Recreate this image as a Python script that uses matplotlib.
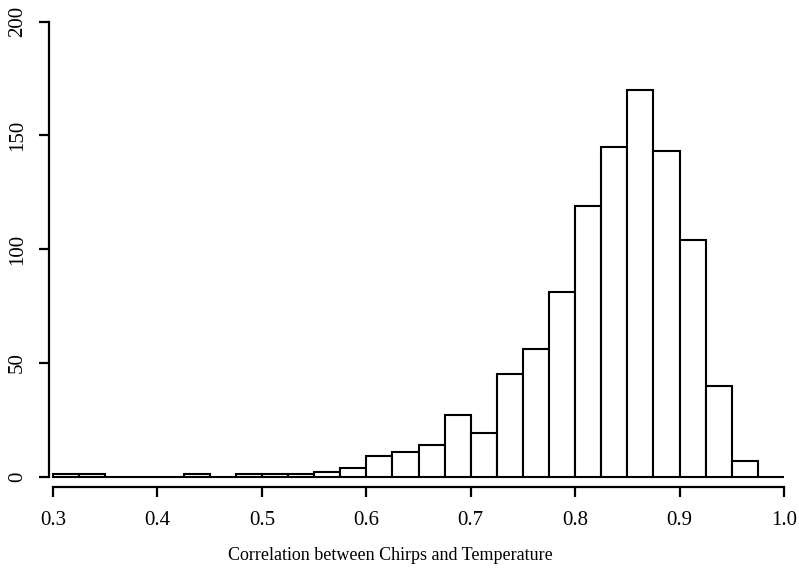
import numpy as np
import matplotlib
matplotlib.use("Agg")
import matplotlib.pyplot as plt

# Histogram bins (width 0.025 from 0.3 to 1.0)
bin_edges = [round(0.3 + 0.025 * i, 3) for i in range(29)]
counts = [1, 1, 0, 0, 0, 1, 0, 1, 1, 1, 2, 4, 9, 11, 14, 27, 19, 45, 56,
          81, 119, 145, 170, 143, 104, 40, 7, 0]
x_ticks = [0.3, 0.4, 0.5, 0.6, 0.7, 0.8, 0.9, 1.0]
x_tick_labels = ["0.3", "0.4", "0.5", "0.6", "0.7", "0.8", "0.9", "1.0"]
y_ticks = [0, 50, 100, 150, 200]
y_tick_labels = ["0", "50", "100", "150", "200"]
x_label = "Correlation between Chirps and Temperature"

plt.rcParams['font.family'] = ['Liberation Serif', 'DejaVu Serif']

W, H = 799, 574
fig = plt.figure(figsize=(W / 100, H / 100), dpi=100)
left, right, top, bottom = 49, 790, 21.7, 476.7
ax = fig.add_axes([left / W, 1 - bottom / H, (right - left) / W, (bottom - top) / H])

lefts = np.array(bin_edges[:-1])
widths = np.diff(bin_edges)
ax.bar(lefts, counts, width=widths, align='edge', facecolor='white',
       edgecolor='black', linewidth=1.5, clip_on=False)

ax.set_xlim(0.2962, 1.0057)
ax.set_ylim(0, 200)

for s in ['top', 'right']:
    ax.spines[s].set_visible(False)
ax.spines['left'].set_bounds(0, 200)
ax.spines['left'].set_linewidth(1.6)
ax.spines['bottom'].set_bounds(0.3, 1.0)
ax.spines['bottom'].set_position(('outward', 7.5))
ax.spines['bottom'].set_linewidth(1.6)

ax.set_xticks(x_ticks)
ax.set_xticklabels(x_tick_labels, fontsize=15)
ax.set_yticks(y_ticks)
ax.set_yticklabels(y_tick_labels, fontsize=15, rotation=90, va='center')
ax.tick_params(axis='y', length=7, width=1.6, pad=9)
ax.tick_params(axis='x', length=7, width=1.6, pad=10)

ax.set_xlabel(x_label, fontsize=13)
ax.xaxis.set_label_coords((390 - left) / (right - left), -(555 - bottom) / (bottom - top))
ax.xaxis.label.set_va('center')

fig.savefig("out.png", dpi=100)
